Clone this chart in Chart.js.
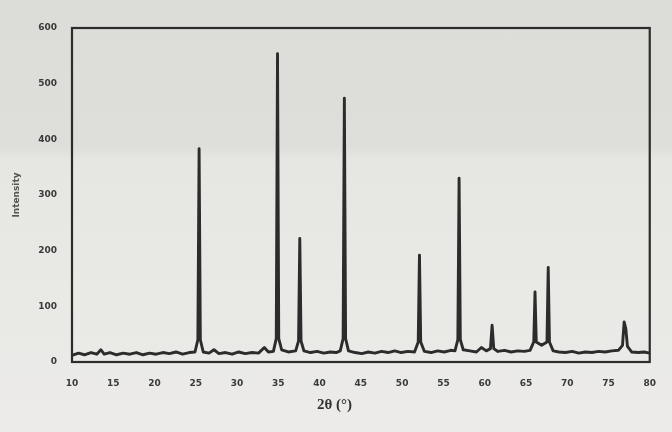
<!DOCTYPE html>
<html>
<head>
<meta charset="utf-8">
<script src="https://cdn.jsdelivr.net/npm/chart.js@4/dist/chart.umd.min.js"></script>
<style>
  html, body { margin: 0; padding: 0; }
  body {
    width: 672px; height: 432px; overflow: hidden;
    background: linear-gradient(180deg, #dcdcd8 0%, #dededa 34%, #e6e6e3 37%, #e9e9e6 70%, #ecebe9 100%);
  }
  #wrap { position: relative; width: 672px; height: 432px; }
</style>
</head>
<body>
<div id="wrap"><canvas id="xrd" width="672" height="432"></canvas></div>
<script>
// ── XRD pattern — 2θ (°) vs intensity ──
const twoTheta = [
  10.0, 10.8, 11.5, 12.3, 13.0, 13.5, 13.9, 14.6, 15.4, 16.2, 17.0, 17.8, 18.6, 19.4,
  20.2, 21.0, 21.8, 22.6, 23.4, 24.2, 24.9, 25.25, 25.4, 25.55, 25.9, 26.6, 27.2, 27.8,
  28.6, 29.4, 30.2, 31.0, 31.8, 32.6, 33.3, 33.8, 34.4, 34.75, 34.9, 35.05, 35.4, 36.2,
  37.1, 37.45, 37.6, 37.75, 38.1, 38.9, 39.7, 40.5, 41.3, 42.0, 42.5, 42.85, 43.0, 43.15,
  43.5, 44.3, 45.1, 45.9, 46.7, 47.5, 48.3, 49.1, 49.9, 50.7, 51.5, 51.95, 52.1, 52.25,
  52.7, 53.5, 54.3, 55.1, 55.9, 56.4, 56.75, 56.9, 57.05, 57.4, 58.2, 59.0, 59.6, 60.2,
  60.7, 60.9, 61.1, 61.6, 62.4, 63.2, 64.0, 64.8, 65.5, 65.95, 66.1, 66.25, 66.9, 67.55,
  67.7, 67.85, 68.3, 69.0, 69.8, 70.6, 71.4, 72.2, 73.0, 73.8, 74.6, 75.4, 76.2, 76.7,
  76.9, 77.1, 77.3, 77.8, 78.6, 79.3, 80.0
];
const intensity = [
  12, 16, 13, 17, 14, 22, 14, 17, 13, 16, 14, 17, 13, 16,
  14, 17, 15, 18, 14, 17, 18, 40, 383, 40, 18, 16, 22, 15,
  17, 14, 18, 15, 17, 16, 26, 18, 19, 42, 554, 42, 22, 18,
  20, 38, 222, 38, 20, 17, 19, 16, 18, 17, 20, 42, 474, 42,
  20, 17, 15, 18, 16, 19, 17, 20, 17, 19, 18, 36, 192, 36,
  19, 17, 20, 18, 21, 20, 40, 330, 40, 22, 20, 18, 26, 20,
  24, 66, 24, 19, 21, 18, 20, 19, 21, 36, 126, 36, 30, 36,
  170, 36, 20, 18, 17, 19, 16, 18, 17, 19, 18, 20, 21, 30,
  72, 60, 28, 18, 17, 18, 16
];
const xTicks = [10, 15, 20, 25, 30, 35, 40, 45, 50, 55, 60, 65, 70, 75, 80];
const yTicks = [0, 100, 200, 300, 400, 500, 600];

const INK = '#2c2c2c';
const LABEL = '#3a3a3a';

// ── Frame + x-axis title ──
const framePlugin = {
  id: 'frame',
  afterDraw(chart) {
    const { ctx, chartArea: a, scales } = chart;
    ctx.save();
    ctx.strokeStyle = INK;
    ctx.lineWidth = 2.2;
    ctx.strokeRect(a.left, a.top, a.right - a.left, a.bottom - a.top);
    ctx.fillStyle = '#333';
    ctx.font = 'bold 15px "Liberation Serif", serif';
    ctx.textAlign = 'center';
    ctx.textBaseline = 'middle';
    ctx.fillText('2θ (°)', scales.x.getPixelForValue(41.8), 405);
    ctx.restore();
  }
};

const points = twoTheta.map((t, i) => ({ x: t, y: intensity[i] }));

new Chart(document.getElementById('xrd').getContext('2d'), {
  type: 'scatter',
  data: {
    datasets: [{
      data: points,
      showLine: true,
      borderColor: INK,
      borderWidth: 2.9,
      borderJoinStyle: 'round',
      pointRadius: 0,
      tension: 0,
      fill: false,
    }],
  },
  options: {
    responsive: false,
    animation: false,
    layout: { padding: { left: 11, top: 28, right: 20, bottom: 0 } },
    plugins: { legend: { display: false }, tooltip: { enabled: false } },
    scales: {
      x: {
        type: 'linear', min: 10, max: 80,
        afterFit: s => { s.height = 70; },
        afterBuildTicks: s => { s.ticks = xTicks.map(v => ({ value: v })); },
        grid: { display: false, drawTicks: false },
        border: { display: false },
        ticks: { color: LABEL, padding: 16, font: { size: 9, weight: 'bold', family: 'DejaVu Sans' } },
      },
      y: {
        min: 0, max: 600,
        afterFit: s => { s.width = 61; },
        afterBuildTicks: s => { s.ticks = yTicks.map(v => ({ value: v })); },
        grid: { display: false, drawTicks: false },
        border: { display: false },
        ticks: { color: LABEL, padding: 15, font: { size: 9, weight: 'bold', family: 'DejaVu Sans' } },
        title: { display: true, text: 'Intensity', color: '#555', padding: 0,
                 font: { size: 9, weight: 'bold', family: 'DejaVu Sans' } },
      },
    },
  },
  plugins: [framePlugin],
});
</script>
</body>
</html>
